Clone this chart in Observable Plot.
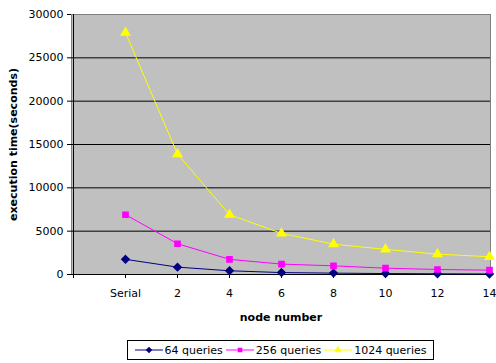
<!DOCTYPE html>
<html>
<head>
<meta charset="utf-8">
<script src="https://cdn.jsdelivr.net/npm/d3@7"></script>
<script src="https://cdn.jsdelivr.net/npm/@observablehq/plot@0.6"></script>
<style>
  body { margin: 0; background: white; font-family: "DejaVu Sans", sans-serif; }
  #chart svg g[aria-label="x-axis label"] text,
  #chart svg g[aria-label="y-axis label"] text { font-weight: bold; }
  #legend { position: absolute; left: 127px; top: 340px; width: 307px; height: 20px;
    box-sizing: border-box; border: 1px solid #000; display: flex; align-items: center;
    justify-content: center; font-size: 11px; font-family: "DejaVu Sans", sans-serif; gap: 3px; }
  #legend .item { display: flex; align-items: center; }
  #legend svg { display: block; margin-right: 2px; }
</style>
</head>
<body>
<div id="chart"></div>
<div id="legend"></div>
<script>
const categories = ["", "Serial", "2", "4", "6", "8", "10", "12", "14"];
const seriesNames = ["64 queries", "256 queries", "1024 queries"];
const q64   = [null, 1750, 850, 430, 220, 160, 110, 80, 60];
const q256  = [null, 6900, 3550, 1750, 1200, 1000, 730, 580, 500];
const q1024 = [null, 27900, 13900, 6900, 4750, 3500, 2900, 2350, 2050];
const yTicks = [0, 5000, 10000, 15000, 20000, 25000, 30000];

const seriesValues = [q64, q256, q1024];
const colors = ["#000080", "#ff00ff", "#ffff00"];
const symbols = ["diamond2", "square", "triangle"];
const radii = [3.3, 2.9, 3.1];

const rows = [];
seriesNames.forEach((s, i) => {
  categories.forEach((c, j) => {
    if (seriesValues[i][j] != null) rows.push({series: s, cat: c, value: seriesValues[i][j]});
  });
});

const marks = [
  Plot.frame({fill: "#c0c0c0", stroke: "#808080"}),
  Plot.ruleY(yTicks.filter(d => d < 30000), {stroke: "#000", strokeWidth: 1}),
  Plot.axisY({ticks: yTicks, tickSize: 4, tickPadding: 4, tickFormat: d => String(d),
    label: "execution time(seconds)", labelAnchor: "center", labelArrow: "none", labelOffset: 62, fontSize: 11}),
  Plot.axisX({tickSize: 4, tickPadding: 11, tickFormat: d => d,
    label: "node number", labelAnchor: "center", labelArrow: "none", labelOffset: 46, fontSize: 11}),
  Plot.ruleX([categories[0]], {stroke: "#000"})
];
seriesNames.forEach((s, i) => {
  const d = rows.filter(r => r.series === s);
  marks.push(Plot.line(d, {x: "cat", y: "value", stroke: colors[i], strokeWidth: 1}));
  marks.push(Plot.dot(d, {x: "cat", y: "value", fill: colors[i], stroke: colors[i], symbol: symbols[i], r: radii[i]}));
});

const chart = Plot.plot({
  width: 496,
  height: 330,
  marginTop: 14,
  marginBottom: 56,
  marginLeft: 71,
  marginRight: 6,
  style: {fontFamily: "DejaVu Sans, sans-serif", fontSize: "11px", background: "white", color: "#000"},
  x: {type: "point", domain: categories, padding: 0},
  y: {domain: [0, 30000]},
  marks
});
document.getElementById("chart").append(chart);

const legend = document.getElementById("legend");
seriesNames.forEach((s, i) => {
  const item = document.createElement("div");
  item.className = "item";
  const sym = d3.symbol(d3[{diamond2: "symbolDiamond2", square: "symbolSquare", triangle: "symbolTriangle"}[symbols[i]]], Math.PI * radii[i] * radii[i] * 0.8)();
  item.innerHTML = `<svg width="28" height="10"><line x1="0" x2="28" y1="5" y2="5" stroke="${colors[i]}"/><path d="${sym}" transform="translate(14,5)" fill="${colors[i]}"/></svg><span>${s}</span>`;
  legend.append(item);
});
</script>
</body>
</html>
